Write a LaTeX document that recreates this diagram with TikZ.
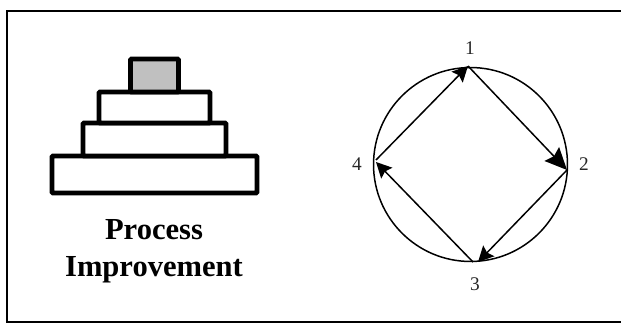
\documentclass[tikz,border=0pt]{standalone}
\usepackage{fontspec}
\setmainfont{Liberation Serif}
\definecolor{StepGray}{RGB}{192, 192, 192}
\usetikzlibrary{arrows.meta, positioning}

\begin{document}
\begin{tikzpicture}[
            x=0.02cm, y=-0.02cm,
            frame/.style={draw=black, line width=1.2pt, line join=miter},
            stepbox/.style={rectangle, rounded corners=0.5pt, draw=black, fill=white, line width=2.6pt,
                        inner sep=0pt, outer sep=0pt},
            ring/.style={circle, draw=black, line width=0.85pt, inner sep=0pt, outer sep=0pt,
                        minimum size=3.88cm},
            num/.style={font=\fontsize{11}{13}\selectfont, text=black!85, inner sep=0pt},
            arrow/.style={-{Stealth[length=3.1mm, width=3.1mm, inset=0.5mm]}, line width=0.85pt},
            bigarrow/.style={-{Stealth[length=4.4mm, width=4mm, inset=0.6mm]}, line width=0.85pt}
        ]
            \useasboundingbox (0,0) rectangle (621,328);

            % open border, runs off on the right
            \coordinate (topright) at (621,11);
            \coordinate (topleft) at (7,11);
            \coordinate (botleft) at (7,322);
            \coordinate (botright) at (621,322);
            \draw[frame] (topright) -- (topleft) -- (botleft) -- (botright);

            % pyramid, bottom up
            \node[stepbox, minimum width=4.10cm, minimum height=0.74cm] (base) at (154.5,174.5) {};
            \node[stepbox, minimum width=2.86cm, minimum height=0.66cm, above=0pt of base] (lower) {};
            \node[stepbox, minimum width=2.22cm, minimum height=0.62cm, above=0pt of lower] (upper) {};
            \node[stepbox, fill=StepGray, minimum width=0.96cm, minimum height=0.66cm, above=0pt of upper] (peak) {};
            \node[align=center, font=\fontsize{17.4}{21}\selectfont\bfseries, inner sep=0pt] (title) at (154,251) {Process\\Improvement};

            % cycle
            \node[ring] (cycle) at (470.5,164.5) {};
            \coordinate (p1) at (468,66);
            \coordinate (p2) at (567,170);
            \coordinate (p3in) at (478,262);
            \coordinate (p3out) at (473,262);
            \coordinate (p4in) at (376,162);
            \coordinate (p4out) at (376,160);
            \node[num] (one) at (470,48) {1};
            \node[num] (two) at (584,164) {2};
            \node[num] (three) at (475,284) {3};
            \node[num] (four) at (357,164) {4};

            \draw[bigarrow] (p1) -- (p2);
            \draw[arrow] (p2) -- (p3in);
            \draw[arrow] (p3out) -- (p4in);
            \draw[arrow] (p4out) -- (p1);
        \end{tikzpicture}
\end{document}
